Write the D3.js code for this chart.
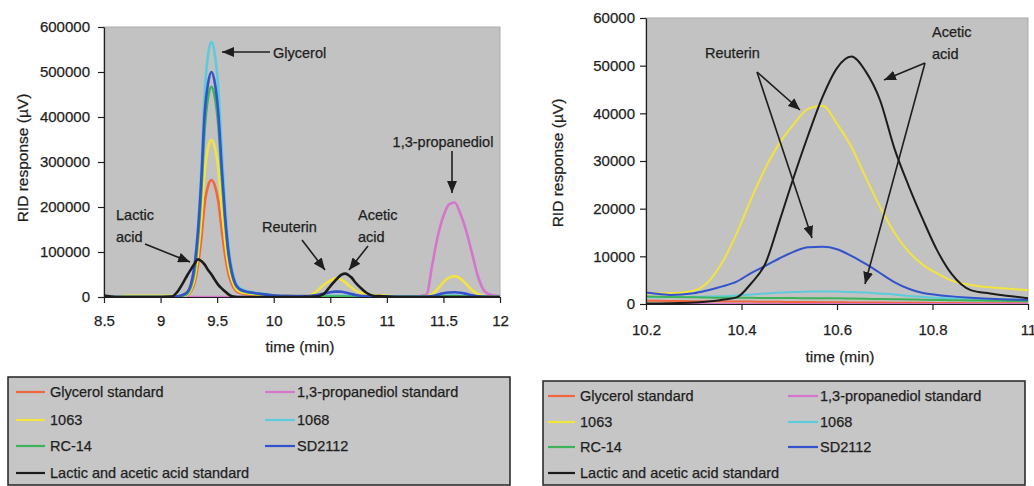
<!DOCTYPE html>
<html>
<head>
<meta charset="utf-8">
<script src="https://cdn.jsdelivr.net/npm/d3@7"></script>
<style>
body { margin: 0; background: #fff; }
svg text { font-family: "Liberation Sans", Arial, sans-serif; fill: #1e1e1e; stroke: #1e1e1e; stroke-width: 0.25px; }
</style>
</head>
<body>
<div id="main"></div>
<script>
// retention time grid (min), shared by every trace
const times = [8.5, 8.6, 8.7, 9.0, 9.1,
  9.15, 9.2, 9.24, 9.27, 9.3, 9.33, 9.36, 9.39, 9.42, 9.45, 9.48, 9.51, 9.54, 9.57, 9.6, 9.63, 9.66, 9.7, 9.75, 9.8, 9.9, 10.0, 10.1,
  10.2, 10.25, 10.3, 10.33, 10.36, 10.39, 10.42, 10.45, 10.48, 10.51, 10.54, 10.57, 10.6, 10.63, 10.66, 10.69, 10.72, 10.75, 10.78, 10.81, 10.84, 10.88, 10.92, 10.96, 11.0,
  11.1, 11.2, 11.35, 11.4, 11.45, 11.5, 11.55, 11.6, 11.65, 11.7, 11.75, 11.8, 11.85, 11.9, 12.0];

// RID response (µV)
const glycerolStd = [0, 0, 0, 0, 0,
  0, 1600, 4700, 13000, 31200, 70200, 130000, 208000, 247000, 260000, 247000, 213200, 150800, 93600, 52000, 28600, 15600, 9100, 6500, 5200, 3400, 1800, 800,
  700, 650, 600, 580, 550, 520, 500, 480, 450, 430, 400, 380, 360, 340, 320, 300, 280, 260, 240, 220, 200, 180, 160, 140, 120,
  0, 0, 0, 0, 0, 0, 0, 0, 0, 0, 0, 0, 0, 0, 0];
const propanediolStd = [0, 0, 0, 0, 0,
  0, 0, 0, 0, 0, 0, 0, 0, 0, 0, 0, 0, 0, 0, 0, 0, 0, 0, 0, 0, 0, 0, 0,
  0, 0, 0, 0, 0, 0, 0, 0, 0, 0, 0, 0, 0, 0, 0, 0, 0, 0, 0, 0, 0, 0, 0, 0, 0,
  0, 0, 5000, 70000, 135000, 180000, 206000, 210000, 185000, 148000, 100000, 50000, 18000, 6000, 1500];
const s1063 = [0, 0, 2500, 2500, 2500,
  2500, 2500, 6300, 17500, 41900, 94200, 174500, 279200, 331600, 349000, 331600, 286200, 202400, 125600, 69800, 38400, 20900, 12200, 8700, 7000, 4500, 3000, 2500,
  2240, 2240, 2800, 4600, 8800, 14800, 22000, 28500, 33800, 37800, 41000, 41600, 37800, 33000, 26600, 20400, 15000, 11000, 8200, 6400, 4900, 4000, 3500, 3200, 2900,
  1500, 1000, 1500, 6000, 18000, 33000, 43000, 46000, 41000, 29000, 16000, 7000, 2500, 1000, 0];
const s1068 = [0, 0, 0, 0, 0,
  0, 3400, 10200, 28400, 68000, 153000, 283500, 453600, 538700, 567000, 538700, 465000, 328900, 204100, 113400, 62400, 34000, 19800, 14200, 11300, 7400, 4000, 1700,
  1400, 1450, 1500, 1550, 1600, 1800, 2000, 2200, 2400, 2500, 2600, 2600, 2600, 2500, 2400, 2200, 2000, 1700, 1500, 1300, 1200, 1100, 1000, 950, 900,
  500, 300, 300, 800, 1500, 2500, 3000, 3200, 2800, 2000, 1000, 500, 200, 100, 0];
const rc14 = [0, 0, 0, 0, 0,
  0, 2800, 8400, 23400, 56000, 126000, 233500, 373600, 443700, 467000, 443700, 383000, 270900, 168100, 93400, 51400, 28000, 16300, 11700, 9300, 6100, 3300, 1400,
  1550, 1450, 1400, 1350, 1300, 1300, 1300, 1250, 1250, 1250, 1200, 1200, 1200, 1150, 1100, 1050, 1000, 950, 900, 850, 800, 750, 700, 650, 600,
  300, 200, 200, 500, 900, 1300, 1500, 1500, 1300, 900, 500, 300, 100, 0, 0];
const sd2112 = [0, 0, 0, 0, 500,
  1500, 5000, 12000, 30000, 70000, 145000, 260000, 410000, 475000, 500000, 475000, 410000, 290000, 180000, 100000, 55000, 30000, 17500, 12500, 10000, 6500, 3500, 2500,
  2380, 1900, 2250, 2900, 3700, 4700, 6500, 8000, 9600, 11000, 11900, 12000, 11500, 10100, 8400, 6500, 4600, 3200, 2300, 1900, 1600, 1300, 1100, 950, 840,
  500, 300, 500, 2000, 5000, 8500, 10000, 10500, 9500, 7000, 4000, 1800, 600, 200, 0];
const lacticAcetic = [3000, 0, 0, 0, 1000,
  12000, 32000, 50000, 62000, 74000, 84000, 80000, 72000, 60000, 50000, 38000, 27000, 19000, 12000, 6000, 2000, 500, 0, 0, 0, 0, 0, 0,
  100, 150, 300, 500, 900, 1400, 4300, 8500, 17500, 26800, 35500, 43500, 49500, 51900, 48800, 42800, 32700, 24800, 17700, 11200, 6300, 2900, 2200, 1700, 1200,
  0, 0, 0, 0, 0, 0, 0, 0, 0, 0, 0, 0, 0, 0, 0];

const seriesNames = ["Glycerol standard", "1,3-propanediol standard", "1063", "1068", "RC-14", "SD2112", "Lactic and acetic acid standard"];
const seriesValues = [glycerolStd, propanediolStd, s1063, s1068, rc14, sd2112, lacticAcetic];
const seriesColors = ["#f2653f", "#d575cc", "#f2e43c", "#5ccbdc", "#3fb35a", "#3352cc", "#1c1c1c"];

const leftTicksX = [8.5, 9, 9.5, 10, 10.5, 11, 11.5, 12];
const leftTicksY = [0, 100000, 200000, 300000, 400000, 500000, 600000];
const rightTicksX = [10.2, 10.4, 10.6, 10.8, 11];
const rightTicksY = [0, 10000, 20000, 30000, 40000, 50000, 60000];

const ctx = {
    w: 1034,
    h: 486,
    PLOT_BG: "#c2c2c2",
    LEGEND_BG: "#c6c6c6",
};

const panels = [
    {
        id: "left", x0: 104, x1: 500, y0: 27, y1: 297,
        xDomain: [8.5, 12], yDomain: [0, 600000], xTicks: leftTicksX, yTicks: leftTicksY,
        xPad: 12, yPad: 8, lineW: 2.6,
        xTitle: [300, 352], yTitle: [28, 158],
        legend: {x: 8, y: 377, w: 502, h: 108, rows: [392, 420, 446, 473], col1: [16, 45, 50], col2: [265, 295, 297]},
        notes: [
            {lines: ["Glycerol"], x: 273, y: 58, anchor: "start"},
            {lines: ["1,3-propanediol"], x: 443, y: 147, anchor: "middle"},
            {lines: ["Lactic", "acid"], x: 116, y: 220, anchor: "start"},
            {lines: ["Reuterin"], x: 262, y: 232, anchor: "start"},
            {lines: ["Acetic", "acid"], x: 358, y: 220, anchor: "start"},
        ],
        arrows: [[270, 52, 222, 52], [452, 151, 452, 193], [145, 244, 190, 262], [302, 240, 325, 270], [368, 246, 349, 270]],
    },
    {
        id: "right", x0: 646, x1: 1028, y0: 18, y1: 304,
        xDomain: [10.2, 11], yDomain: [0, 60000], xTicks: rightTicksX, yTicks: rightTicksY,
        xPad: 14, yPad: 5, lineW: 2,
        xTitle: [840, 362], yTitle: [563, 163],
        legend: {x: 543, y: 381, w: 482, h: 104, rows: [396, 422, 447, 473], col1: [548, 575, 580], col2: [788, 818, 820]},
        notes: [
            {lines: ["Reuterin"], x: 705, y: 58, anchor: "start"},
            {lines: ["Acetic", "acid"], x: 932, y: 37, anchor: "start"},
        ],
        arrows: [[757, 72, 800, 110], [757, 72, 812, 238], [925, 63, 884, 80], [925, 63, 865, 284]],
    },
];

function drawPanel(svg, p){
    const x = d3.scaleLinear().domain(p.xDomain).range([p.x0, p.x1]);
    const y = d3.scaleLinear().domain(p.yDomain).range([p.y1, p.y0]);

    svg.append("rect")
       .attr("x", p.x0).attr("y", p.y0)
       .attr("width", p.x1 - p.x0).attr("height", p.y1 - p.y0)
       .attr("fill", ctx.PLOT_BG).attr("stroke", "#ababab");

    svg.append("clipPath").attr("id", "clip-" + p.id)
       .append("rect")
       .attr("x", p.x0).attr("y", p.y0 - 2)
       .attr("width", p.x1 - p.x0).attr("height", p.y1 - p.y0 + 3);

    const line = d3.line()
                   .x((d, i) => x(times[i]))
                   .y(d => y(d))
                   .curve(d3.curveMonotoneX);

    svg.append("g").attr("clip-path", "url(#clip-" + p.id + ")")
       .selectAll("path")
       .data(seriesValues)
       .enter()
       .append("path")
       .attr("d", d => line(d))
       .attr("fill", "none")
       .attr("stroke", (d, i) => seriesColors[i])
       .attr("stroke-width", p.lineW)
       .attr("stroke-linejoin", "round");

    // axes
    const xAxis = d3.axisBottom(x).tickValues(p.xTicks).tickSize(6).tickSizeOuter(0)
                    .tickPadding(p.xPad).tickFormat(d3.format(""));
    const yAxis = d3.axisLeft(y).tickValues(p.yTicks).tickSize(6).tickSizeOuter(0)
                    .tickPadding(p.yPad).tickFormat(d3.format("d"));
    const gx = svg.append("g").attr("transform", "translate(0," + p.y1 + ")").call(xAxis);
    const gy = svg.append("g").attr("transform", "translate(" + p.x0 + ",0)").call(yAxis);
    [gx, gy].forEach(g => {
        g.select(".domain").attr("stroke", "#1e1e1e").attr("stroke-width", 1.2);
        g.selectAll(".tick line").attr("stroke", "#1e1e1e").attr("stroke-width", 1.2);
        g.selectAll(".tick text").attr("font-size", 15).attr("fill", "#1e1e1e")
         .attr("font-family", "Liberation Sans, Arial, sans-serif");
    });

    svg.append("text")
       .attr("x", p.xTitle[0]).attr("y", p.xTitle[1])
       .attr("text-anchor", "middle").attr("font-size", 15.5)
       .text("time (min)");
    svg.append("text")
       .attr("transform", "translate(" + p.yTitle[0] + "," + p.yTitle[1] + ") rotate(-90)")
       .attr("text-anchor", "middle").attr("font-size", 15.5)
       .text("RID response (\u00b5V)");

    // annotations
    p.notes.forEach(n => {
        const t = svg.append("text").attr("font-size", 14.5).attr("text-anchor", n.anchor);
        n.lines.forEach((s, k) => {
            t.append("tspan").attr("x", n.x).attr("y", n.y + k * 22).text(s);
        });
    });
    svg.append("g").selectAll("line")
       .data(p.arrows)
       .enter()
       .append("line")
       .attr("x1", d => d[0]).attr("y1", d => d[1])
       .attr("x2", d => d[2]).attr("y2", d => d[3])
       .attr("stroke", "#1e1e1e").attr("stroke-width", 1.6)
       .attr("marker-end", "url(#arrowhead)");

    // legend
    const L = p.legend;
    svg.append("rect")
       .attr("x", L.x).attr("y", L.y).attr("width", L.w).attr("height", L.h)
       .attr("fill", ctx.LEGEND_BG).attr("stroke", "#222").attr("stroke-width", 1.5);
    const items = svg.append("g").selectAll("g")
       .data(seriesNames)
       .enter()
       .append("g");
    items.append("line")
       .attr("x1", (d, i) => (i % 2 === 0 ? L.col1 : L.col2)[0])
       .attr("x2", (d, i) => (i % 2 === 0 ? L.col1 : L.col2)[1])
       .attr("y1", (d, i) => L.rows[Math.floor(i / 2)])
       .attr("y2", (d, i) => L.rows[Math.floor(i / 2)])
       .attr("stroke", (d, i) => seriesColors[i])
       .attr("stroke-width", 2.2);
    items.append("text")
       .attr("x", (d, i) => (i % 2 === 0 ? L.col1 : L.col2)[2])
       .attr("y", (d, i) => L.rows[Math.floor(i / 2)] + 5)
       .attr("font-size", 14.5)
       .text(d => d);
}

function createViz(){
    seriesValues.forEach((s, i) => {
        if (s.length !== times.length) console.log("length mismatch", seriesNames[i], s.length, times.length);
    });
    const svg = d3.select("#main").append("svg")
                  .attr("width", ctx.w).attr("height", ctx.h);
    svg.append("rect").attr("width", ctx.w).attr("height", ctx.h).attr("fill", "#fff");
    svg.append("defs").append("marker")
       .attr("id", "arrowhead")
       .attr("viewBox", "0 0 12 10")
       .attr("refX", 12).attr("refY", 5)
       .attr("markerWidth", 12).attr("markerHeight", 10)
       .attr("markerUnits", "userSpaceOnUse")
       .attr("orient", "auto")
       .append("path")
       .attr("d", "M0,0 L12,5 L0,10 Z")
       .attr("fill", "#1e1e1e");
    panels.forEach(p => drawPanel(svg, p));
}

createViz();
</script>
</body>
</html>
